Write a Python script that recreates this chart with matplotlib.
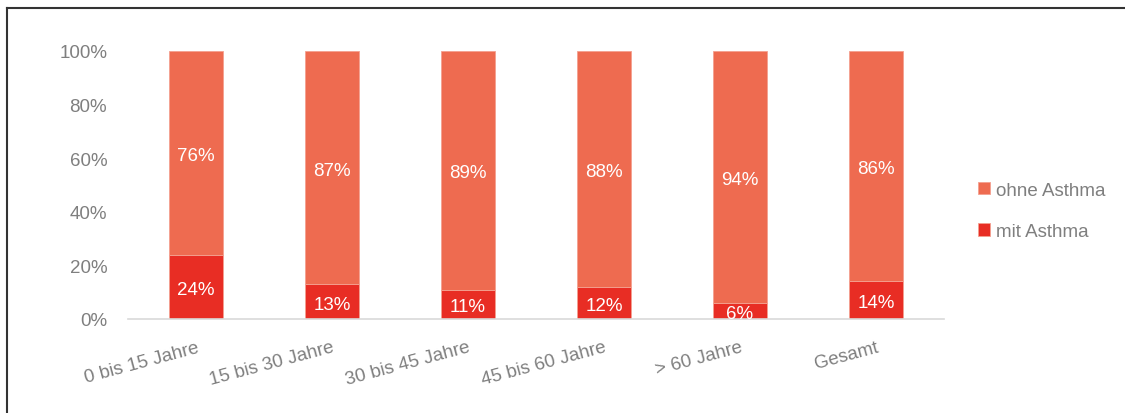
import matplotlib.pyplot as plt
from matplotlib.lines import Line2D

plt.rcParams['font.family'] = ['Liberation Sans', 'DejaVu Sans']
fs = 13.5

categories = ['0 bis 15 Jahre', '15 bis 30 Jahre', '30 bis 45 Jahre',
              '45 bis 60 Jahre', '> 60 Jahre', 'Gesamt']
mit_asthma = [24, 13, 11, 12, 6, 14]
ohne_asthma = [76, 87, 89, 88, 94, 86]
yticks = [0, 20, 40, 60, 80, 100]

c_ohne = '#EE6B50'
c_mit = '#E82D24'
grey = '#7F7F7F'

fig = plt.figure(figsize=(11.25, 4.14), dpi=100)
ax = fig.add_axes([128 / 1125, 1 - 320 / 414, (944 - 128) / 1125, 268 / 414])

x = range(len(categories))
b1 = ax.bar(x, mit_asthma, width=0.4, color=c_mit, label='mit Asthma',
            edgecolor='#F4A090', linewidth=0.6)
b2 = ax.bar(x, ohne_asthma, width=0.4, bottom=mit_asthma, color=c_ohne,
            label='ohne Asthma', edgecolor='#F4A090', linewidth=0.6)

for i in x:
    ax.text(i, mit_asthma[i] / 2 - 1, f'{mit_asthma[i]}%', ha='center', va='center',
            color='white', fontsize=fs)
    ax.text(i, mit_asthma[i] + ohne_asthma[i] / 2 - 1, f'{ohne_asthma[i]}%',
            ha='center', va='center', color='white', fontsize=fs)

ax.set_xlim(-0.5, 5.5)
ax.set_ylim(0, 100)
ax.set_yticks(yticks)
ax.set_yticklabels([f'{v}%' for v in yticks], color=grey, fontsize=fs)
ax.set_xticks(list(x))
ax.set_xticklabels(categories, rotation=15, ha='right', va='top',
                   rotation_mode='anchor', color=grey, fontsize=fs)
ax.tick_params(axis='both', length=0)
ax.tick_params(axis='x', pad=14)
ax.tick_params(axis='y', pad=15)
for s in ['top', 'right', 'left']:
    ax.spines[s].set_visible(False)
ax.spines['bottom'].set_color('#D9D9D9')
ax.spines['bottom'].set_linewidth(1.2)

handles = [b2, b1]
leg = fig.legend(handles, ['ohne Asthma', 'mit Asthma'], loc='center left',
                 bbox_to_anchor=(961 / 1125, 1 - 212 / 414), frameon=False,
                 fontsize=fs, handlelength=0.64, handleheight=0.64,
                 handletextpad=0.3, labelspacing=1.3)
for t in leg.get_texts():
    t.set_color(grey)

fig.add_artist(Line2D([7 / 1125, 1], [1 - 9 / 414, 1 - 9 / 414], color='#333333', lw=1.5))
fig.add_artist(Line2D([7 / 1125, 7 / 1125], [0, 1 - 9 / 414], color='#333333', lw=1.5))

fig.savefig('out.png', dpi=100)
